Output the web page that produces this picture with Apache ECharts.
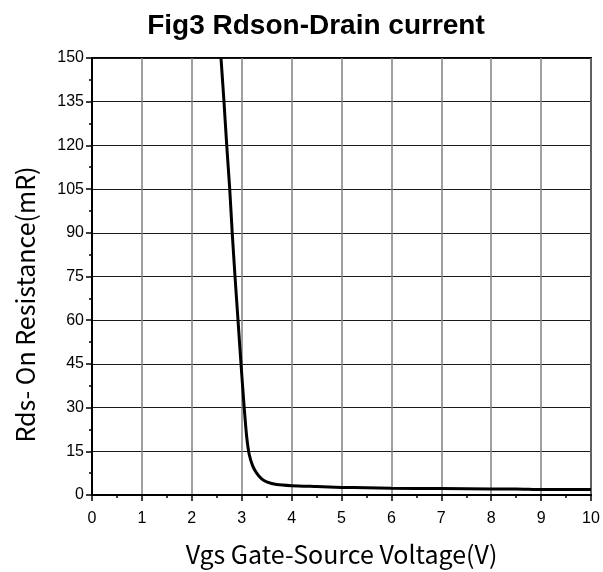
<!DOCTYPE html>
<html>
<head>
<meta charset="utf-8">
<script src="https://cdn.jsdelivr.net/npm/echarts@6/dist/echarts.min.js"></script>
<style>
  html, body { margin: 0; padding: 0; background: #fff; }
  #main { width: 603px; height: 572px; }
</style>
</head>
<body>
<div id="main"></div>
<script>
  // Vgs (V) vs Rds-on (mR)
  const vgs = [2.585, 2.645, 2.70, 2.76, 2.81, 2.866, 2.926, 2.986, 3.05, 3.10, 3.15, 3.22, 3.30, 3.40, 3.50, 3.70, 4.0, 4.5, 5.0, 5.5, 6.0, 7.0, 8.0, 8.5, 9.0, 10.0]
  const rds = [150, 135, 120, 105, 90, 75, 60, 45, 30, 20, 14, 10, 7.5, 5.5, 4.5, 3.6, 3.2, 2.9, 2.6, 2.5, 2.3, 2.2, 2.1, 2.1, 1.9, 1.9]
  const titleText = 'Fig3 Rdson-Drain current'
  const xName = 'Vgs Gate-Source Voltage(V)'
  const yName = 'Rds- On Resistance(mR)'

  let chart = echarts.init(document.getElementById('main'))
  let points = vgs.map((v, i) => [v, rds[i]])
  let nameFont = {
    fontFamily: 'Noto Sans CJK SC',
    fontSize: 25,
    color: '#000'
  }
  let option = {
    animation: false,
    title: {
      text: titleText,
      left: 311,
      top: 7,
      textAlign: 'center',
      textStyle: { fontFamily: 'Liberation Sans', fontWeight: 'bold', fontSize: 28, color: '#000' }
    },
    grid: {
      left: 92, right: 12, top: 58, bottom: 74,
      show: true, borderColor: '#000', borderWidth: 2
    },
    xAxis: {
      type: 'value', min: 0, max: 10, interval: 1,
      name: xName, nameLocation: 'middle', nameGap: 47,
      nameTextStyle: nameFont,
      axisLine: { onZero: false, lineStyle: { color: '#000', width: 2 } },
      axisTick: { length: 6, lineStyle: { color: '#000', width: 1.5 } },
      minorTick: { show: true, splitNumber: 2, length: 3, lineStyle: { color: '#000', width: 1.5 } },
      axisLabel: { fontFamily: 'Liberation Sans', fontSize: 16, color: '#000', margin: 16 },
      splitLine: { show: true, lineStyle: { color: '#808080', width: 1.5 } }
    },
    yAxis: {
      type: 'value', min: 0, max: 150, interval: 15,
      name: yName, nameLocation: 'middle', nameGap: 54, nameRotate: 90,
      nameTextStyle: Object.assign({ padding: [0, 56, 0, 0] }, nameFont),
      axisLine: { onZero: false, lineStyle: { color: '#000', width: 2 } },
      axisTick: { length: 6, lineStyle: { color: '#000', width: 1.5 } },
      minorTick: { show: true, splitNumber: 2, length: 3, lineStyle: { color: '#000', width: 1.5 } },
      axisLabel: { fontFamily: 'Liberation Sans', fontSize: 16, color: '#000', margin: 8 },
      splitLine: { show: true, lineStyle: { color: '#1a1a1a', width: 1 } }
    },
    series: [{
      type: 'line',
      data: points,
      smooth: 0.2,
      showSymbol: false,
      clip: true,
      lineStyle: { color: '#000', width: 3 }
    }]
  }
  chart.setOption(option)
</script>
</body>
</html>
